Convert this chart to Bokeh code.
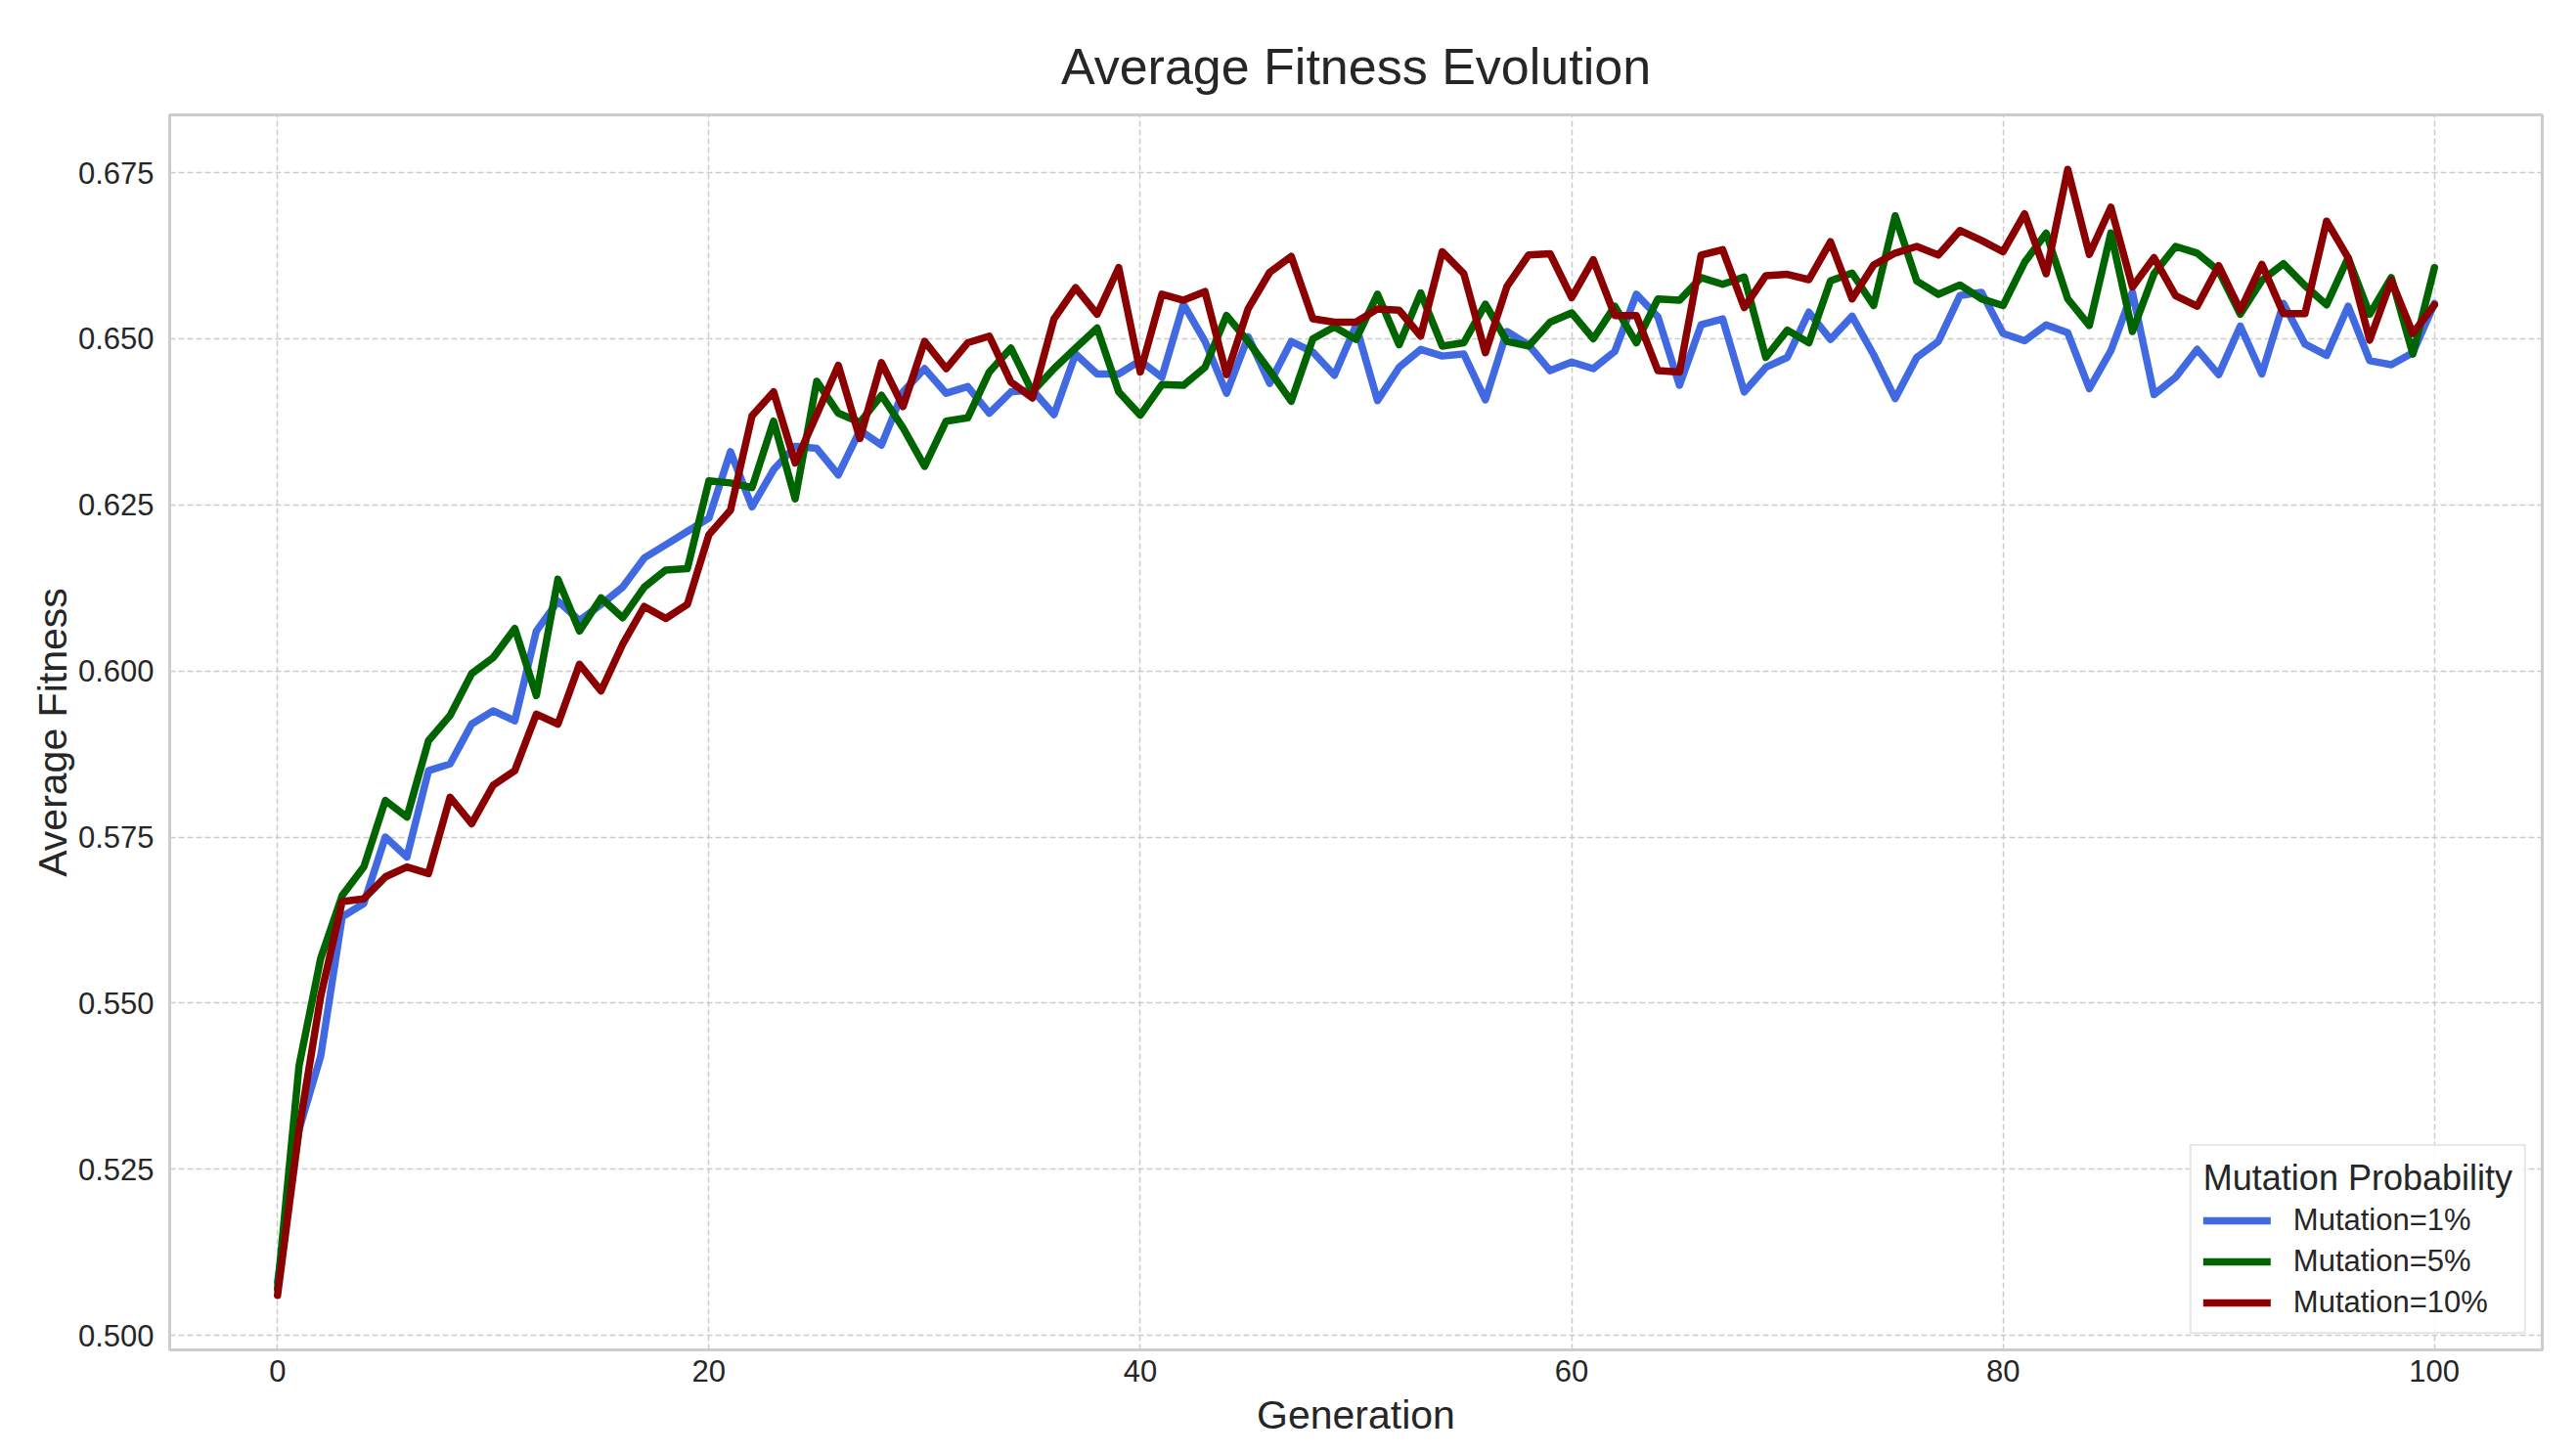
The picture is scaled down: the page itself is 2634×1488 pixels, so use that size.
from bokeh.plotting import figure
from bokeh.models import Range1d, FixedTicker, NumeralTickFormatter
from bokeh.embed import file_html
from bokeh.resources import INLINE

generations = list(range(101))

mut_1 = [0.508, 0.531, 0.542, 0.563, 0.565, 0.575, 0.572, 0.585, 0.586, 0.592,
         0.594, 0.5925, 0.606, 0.6105, 0.6076, 0.610, 0.6126, 0.617, 0.619, 0.621,
         0.623, 0.633, 0.6247, 0.6303, 0.6338, 0.6335, 0.6295, 0.6362, 0.634, 0.642,
         0.6455, 0.6418, 0.6428, 0.6388, 0.642, 0.6423, 0.6386, 0.6477, 0.6447, 0.6447,
         0.6467, 0.6442, 0.6552, 0.6496, 0.6418, 0.6503, 0.6433, 0.6496, 0.648, 0.6445,
         0.652, 0.6407, 0.6457, 0.6484, 0.6474, 0.6477, 0.6408, 0.6511, 0.6491, 0.6452,
         0.6465, 0.6455, 0.6481, 0.6567, 0.6533, 0.643, 0.6521, 0.653, 0.642, 0.6457,
         0.6472, 0.654, 0.6499, 0.6534, 0.6476, 0.641, 0.6472, 0.6496, 0.6565, 0.657,
         0.6508, 0.6497, 0.6521, 0.6509, 0.6425, 0.6482, 0.657, 0.6416, 0.6442, 0.6484,
         0.6446, 0.6519, 0.6447, 0.6553, 0.6492, 0.6475, 0.6549, 0.6467, 0.6461, 0.6479,
         0.6553]

mut_5 = [0.507, 0.5406, 0.5567, 0.5662, 0.5705, 0.5805, 0.578, 0.5895, 0.5933, 0.5996,
         0.602, 0.6064, 0.5963, 0.6138, 0.606, 0.611, 0.608, 0.6126, 0.6152, 0.6154,
         0.6286, 0.6283, 0.6276, 0.6376, 0.6259, 0.6436, 0.6388, 0.6374, 0.6415, 0.6366,
         0.6308, 0.6376, 0.6381, 0.645, 0.6486, 0.642, 0.6455, 0.6486, 0.6516, 0.642,
         0.6385, 0.6431, 0.643, 0.6457, 0.6535, 0.6496, 0.6452, 0.6406, 0.650, 0.6518,
         0.6499, 0.6567, 0.6491, 0.6569, 0.6489, 0.6494, 0.6552, 0.6496, 0.6489, 0.6525,
         0.6539, 0.650, 0.6549, 0.6494, 0.656, 0.6558, 0.6592, 0.6582, 0.6593, 0.6472,
         0.6513, 0.6494, 0.6587, 0.6599, 0.655, 0.6685, 0.6587, 0.6567, 0.6581, 0.656,
         0.655, 0.6615, 0.6659, 0.656, 0.652, 0.6659, 0.6511, 0.6598, 0.6639, 0.6629,
         0.6602, 0.6537, 0.6588, 0.6613, 0.658, 0.6551, 0.6622, 0.6537, 0.6592, 0.6477,
         0.6607]

mut_10 = [0.506, 0.531, 0.551, 0.5653, 0.5657, 0.569, 0.5705, 0.5695, 0.581, 0.577,
          0.5828, 0.585, 0.5935, 0.592, 0.601, 0.597, 0.604, 0.6097, 0.6079, 0.610,
          0.6205, 0.6242, 0.6384, 0.642, 0.6313, 0.6386, 0.646, 0.635, 0.6464, 0.6398,
          0.6496, 0.6455, 0.6494, 0.6504, 0.6435, 0.6411, 0.653, 0.6577, 0.6537, 0.6607,
          0.645, 0.6567, 0.6558, 0.6571, 0.6446, 0.6545, 0.660, 0.6624, 0.653, 0.6525,
          0.6525, 0.6545, 0.6543, 0.6504, 0.6631, 0.6598, 0.6479, 0.6579, 0.6626, 0.6628,
          0.6562, 0.6619, 0.6535, 0.6535, 0.6452, 0.645, 0.6626, 0.6634, 0.6547, 0.6595,
          0.6597, 0.6589, 0.6646, 0.656, 0.6611, 0.6629, 0.6639, 0.6626, 0.6663, 0.6648,
          0.6631, 0.6688, 0.6598, 0.6755, 0.6627, 0.6698, 0.6578, 0.6622, 0.6565, 0.6549,
          0.661, 0.6543, 0.6612, 0.6538, 0.6538, 0.6677, 0.6622, 0.6498, 0.6588, 0.6508,
          0.6551]

series_labels = ["Mutation=1%", "Mutation=5%", "Mutation=10%"]
series_colors = ["#4169E1", "#006400", "#8B0000"]
x_ticks = [0, 20, 40, 60, 80, 100]
y_ticks = [0.500, 0.525, 0.550, 0.575, 0.600, 0.625, 0.650, 0.675]

FONT = "Liberation Sans"
TXT = "#262626"

p = figure(width=2618, height=1472, output_backend="svg", toolbar_location=None,
           x_range=Range1d(-5, 105), y_range=Range1d(0.4978, 0.6837),
           min_border_left=173, min_border_right=19, min_border_top=117, min_border_bottom=89,
           title="Average Fitness Evolution")

p.title.text_font = FONT
p.title.text_font_size = "52px"
p.title.text_font_style = "normal"
p.title.text_color = TXT
p.title.align = "center"
p.title.vertical_align = "top"
p.title.standoff = 37

p.background_fill_color = "white"
p.border_fill_color = "white"
p.outline_line_color = "#cccccc"
p.outline_line_width = 3

for s, lab, col in zip([mut_1, mut_5, mut_10], series_labels, series_colors):
    p.line(generations, s, line_color=col, line_width=7.5, line_join="round",
           line_cap="round", legend_label=lab)

p.xaxis.ticker = FixedTicker(ticks=x_ticks)
p.yaxis.ticker = FixedTicker(ticks=y_ticks)
p.yaxis.formatter = NumeralTickFormatter(format="0.000")
p.xaxis.axis_label = "Generation"
p.yaxis.axis_label = "Average Fitness"

for ax in (p.xaxis, p.yaxis):
    ax.axis_line_color = None
    ax.major_tick_line_color = None
    ax.minor_tick_line_color = None
    ax.major_label_text_font = FONT
    ax.major_label_text_font_size = "31px"
    ax.major_label_text_color = TXT
    ax.axis_label_text_font = FONT
    ax.axis_label_text_font_size = "41px"
    ax.axis_label_text_font_style = "normal"
    ax.axis_label_text_color = TXT

p.xaxis.major_label_standoff = 4
p.xaxis.axis_label_standoff = 8
p.yaxis.major_label_standoff = 10
p.yaxis.axis_label_standoff = 0

for g in (p.xgrid, p.ygrid):
    g.grid_line_color = "#cccccc"
    g.grid_line_width = 1.5
    g.grid_line_dash = "6 3"

leg = p.legend[0]
leg.location = "bottom_right"
leg.margin = 16
leg.title = "Mutation Probability"
leg.title_text_font = FONT
leg.title_text_font_size = "36px"
leg.title_text_font_style = "normal"
leg.title_text_color = TXT
leg.title_standoff = 4
leg.label_text_font = FONT
leg.label_text_font_size = "31px"
leg.label_text_color = TXT
leg.glyph_width = 69
leg.glyph_height = 36
leg.label_standoff = 23
leg.spacing = 6
leg.padding = 12
leg.border_line_color = "#d0d0d0"
leg.border_line_width = 2
leg.background_fill_alpha = 0.85

open("out.html", "w").write(file_html(p, INLINE))
